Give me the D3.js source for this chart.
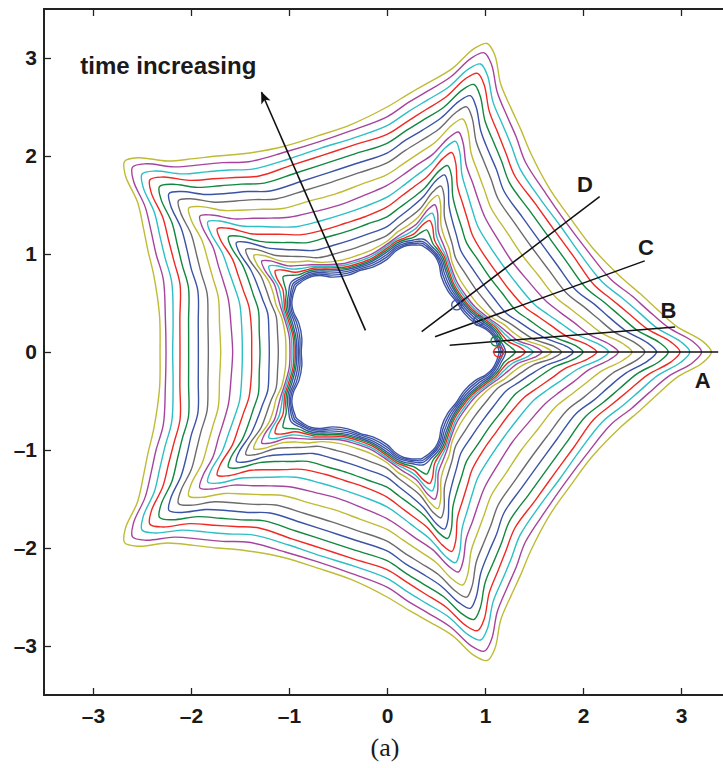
<!DOCTYPE html>
<html>
<head>
<meta charset="utf-8">
<script src="https://cdn.jsdelivr.net/npm/d3@7"></script>
<style>
  body { margin: 0; background: #fff; }
</style>
</head>
<body>
<div class="chart"></div>
<script>
// tick values on both axes
const tickVals = [-3, -2, -1, 0, 1, 2, 3];

// angle (deg) away from a tip of the 5-fold star, 0 = tip, 36 = middle of the valley
const profileAngles = [0, 2, 5, 9, 13, 18, 27, 36];

// radius of every front at those angles, outermost front first
const rAt0  = [3.31, 3.21, 3.09, 2.99, 2.87, 2.75, 2.63, 2.50, 2.36, 2.26, 2.14, 2.00, 1.90, 1.78, 1.68, 1.58, 1.49, 1.41, 1.31, 1.21, 1.185, 1.165, 1.145];
const rAt2  = [3.22, 3.12, 3.00, 2.90, 2.78, 2.66, 2.54, 2.41, 2.27, 2.17, 2.05, 1.92, 1.82, 1.70, 1.60, 1.51, 1.43, 1.36, 1.27, 1.20, 1.175, 1.155, 1.135];
const rAt5  = [2.97, 2.88, 2.77, 2.67, 2.56, 2.45, 2.33, 2.20, 2.07, 1.96, 1.84, 1.72, 1.62, 1.50, 1.41, 1.34, 1.29, 1.24, 1.20, 1.17, 1.15, 1.135, 1.12];
const rAt9  = [2.79, 2.70, 2.60, 2.50, 2.40, 2.29, 2.18, 2.05, 1.93, 1.81, 1.70, 1.58, 1.48, 1.38, 1.30, 1.25, 1.21, 1.18, 1.16, 1.14, 1.12, 1.105, 1.09];
const rAt13 = [2.65, 2.56, 2.46, 2.36, 2.27, 2.17, 2.06, 1.93, 1.81, 1.69, 1.59, 1.48, 1.38, 1.29, 1.23, 1.18, 1.155, 1.135, 1.115, 1.095, 1.075, 1.055, 1.035];
const rAt18 = [2.50, 2.40, 2.31, 2.22, 2.13, 2.03, 1.93, 1.81, 1.70, 1.58, 1.48, 1.38, 1.28, 1.19, 1.13, 1.10, 1.08, 1.06, 1.04, 1.02, 0.995, 0.97, 0.945];
const rAt27 = [2.35, 2.29, 2.21, 2.14, 2.05, 1.95, 1.85, 1.73, 1.61, 1.50, 1.40, 1.32, 1.22, 1.13, 1.05, 1.01, 0.99, 0.97, 0.955, 0.94, 0.92, 0.90, 0.88];
const rAt36 = [2.316, 2.255, 2.187, 2.112, 2.024, 1.925, 1.823, 1.697, 1.575, 1.476, 1.381, 1.296, 1.201, 1.109, 1.031, 0.99, 0.97, 0.95, 0.935, 0.92, 0.905, 0.89, 0.875];

// line colour of each front, outermost first
const frontColors = ["olive", "magenta", "cyan", "red", "green", "blue", "gray",
                     "olive", "magenta", "cyan", "red", "green", "blue", "gray",
                     "olive", "magenta", "cyan", "red", "green", "blue", "blue", "blue", "blue"];

// the probe lines and their labels
const probeNames = ["A", "B", "C", "D"];
const probeStart = [[1.08, 0.0], [0.64, 0.07], [0.49, 0.156], [0.354, 0.207]];
const probeEnd   = [[3.38, 0.0], [2.94, 0.255], [2.63, 0.93], [2.17, 1.585]];
const probeLabelAt = [[3.14, -0.37], [2.79, 0.35], [2.56, 0.99], [1.94, 1.63]];

// small circles on the innermost front
const markerPts = [[1.14, 0.0], [1.112, 0.112], [0.935, 0.32], [0.711, 0.48]];
const markerColors = ["red", "green", "blue", "blue"];

// "time increasing" arrow
const arrowFrom = [-0.22, 0.22];
const arrowTo = [-1.28, 2.65];
const arrowText = "time increasing";
const arrowTextAt = [-3.13, 2.83];

const palette = {
    blue: "#3b53a5", green: "#11873f", red: "#ee2a24", cyan: "#2dbfc6",
    magenta: "#a6449d", olive: "#bfbb35", gray: "#6b6b6d"
};

const width = 723;
const height = 768;
const marginTop = 9;
const marginLeft = 44;
const plotRight = 730;
const plotBottom = 695;

const x = d3.scaleLinear().domain([-3.5, 3.5]).range([marginLeft, plotRight]);
const y = d3.scaleLinear().domain([-3.5, 3.5]).range([plotBottom, marginTop]);

const svg = d3.select(".chart").append("svg")
    .attr("width", width)
    .attr("height", height)
    .style("font-family", "'Liberation Sans', Arial, sans-serif");

svg.append("defs").append("clipPath").attr("id", "plotClip")
    .append("rect")
    .attr("x", marginLeft).attr("y", marginTop)
    .attr("width", plotRight - marginLeft).attr("height", plotBottom - marginTop);

svg.select("defs").append("marker")
    .attr("id", "head")
    .attr("viewBox", "0 0 12 10")
    .attr("refX", 11).attr("refY", 5)
    .attr("markerWidth", 13).attr("markerHeight", 10)
    .attr("markerUnits", "userSpaceOnUse")
    .attr("orient", "auto")
    .append("path")
    .attr("d", "M0,0 L12,5 L0,10 L3,5 Z")
    .attr("fill", "#111");

const plot = svg.append("g").attr("clip-path", "url(#plotClip)");

// build the closed outline of a front from its profile, using the 5-fold mirror symmetry
function frontPoints(i) {
    const prof = [rAt0[i], rAt2[i], rAt5[i], rAt9[i], rAt13[i], rAt18[i], rAt27[i], rAt36[i]];
    const pts = [];
    for (let k = 0; k < 5; k++) {
        const base = 72 * k;
        for (let j = 0; j < profileAngles.length; j++) {
            pts.push([base + profileAngles[j], prof[j]]);
        }
        for (let j = profileAngles.length - 2; j >= 1; j--) {
            pts.push([base + 72 - profileAngles[j], prof[j]]);
        }
    }
    return pts.map(([deg, r]) => {
        const a = deg * Math.PI / 180;
        return [x(r * Math.cos(a)), y(r * Math.sin(a))];
    });
}

const line = d3.line().curve(d3.curveCatmullRomClosed.alpha(0.5));

const order = d3.range(frontColors.length).reverse();  // innermost drawn first
plot.selectAll("path.front")
    .data(order)
    .join("path")
    .attr("class", "front")
    .attr("d", i => line(frontPoints(i)))
    .attr("fill", "none")
    .attr("stroke", i => palette[frontColors[i]])
    .attr("stroke-width", 1.4);

// probe lines
plot.selectAll("line.probe")
    .data(probeNames)
    .join("line")
    .attr("class", "probe")
    .attr("x1", (d, i) => x(probeStart[i][0]))
    .attr("y1", (d, i) => y(probeStart[i][1]))
    .attr("x2", (d, i) => x(probeEnd[i][0]))
    .attr("y2", (d, i) => y(probeEnd[i][1]))
    .attr("stroke", "#111")
    .attr("stroke-width", 1.5);

plot.selectAll("circle.mark")
    .data(markerPts)
    .join("circle")
    .attr("class", "mark")
    .attr("cx", d => x(d[0]))
    .attr("cy", d => y(d[1]))
    .attr("r", 5)
    .attr("fill", "none")
    .attr("stroke", (d, i) => palette[markerColors[i]])
    .attr("stroke-width", 1.3);

svg.selectAll("text.probeLabel")
    .data(probeNames)
    .join("text")
    .attr("class", "probeLabel")
    .attr("x", (d, i) => x(probeLabelAt[i][0]))
    .attr("y", (d, i) => y(probeLabelAt[i][1]))
    .attr("font-size", 22)
    .attr("font-weight", "bold")
    .attr("fill", "#1a1a1a")
    .text(d => d);

// arrow
plot.append("line")
    .attr("x1", x(arrowFrom[0])).attr("y1", y(arrowFrom[1]))
    .attr("x2", x(arrowTo[0])).attr("y2", y(arrowTo[1]))
    .attr("stroke", "#111")
    .attr("stroke-width", 1.6)
    .attr("marker-end", "url(#head)");

svg.append("text")
    .attr("x", x(arrowTextAt[0]))
    .attr("y", y(arrowTextAt[1]) - 1)
    .attr("font-size", 24)
    .attr("font-weight", "bold")
    .attr("fill", "#1a1a1a")
    .text(arrowText);

// axes, ticks pointing inwards like matlab
const fmt = d => d < 0 ? "\u2013" + Math.abs(d) : String(d);

svg.append("g")
    .attr("transform", `translate(0,${plotBottom})`)
    .call(d3.axisBottom(x).tickValues(tickVals).tickFormat(fmt).tickSizeInner(-7).tickSizeOuter(0).tickPadding(13));
svg.append("g")
    .attr("transform", `translate(0,${marginTop})`)
    .call(d3.axisTop(x).tickValues(tickVals).tickFormat("").tickSizeInner(-7).tickSizeOuter(0));
svg.append("g")
    .attr("transform", `translate(${marginLeft},0)`)
    .call(d3.axisLeft(y).tickValues(tickVals).tickFormat(fmt).tickSizeInner(-7).tickSizeOuter(0).tickPadding(7));

svg.selectAll(".domain").remove();
svg.selectAll(".tick line").attr("stroke", "#222").attr("stroke-width", 1.3);
svg.selectAll(".tick text")
    .attr("font-size", 21)
    .attr("font-weight", "bold")
    .attr("font-family", "'Liberation Sans', Arial, sans-serif")
    .attr("fill", "#1a1a1a");

// frame
svg.append("path")
    .attr("d", `M${plotRight},${marginTop}H${marginLeft}V${plotBottom}H${plotRight}`)
    .attr("fill", "none")
    .attr("stroke", "#222")
    .attr("stroke-width", 2);

svg.append("text")
    .attr("x", x(0) - 2)
    .attr("y", 756)
    .attr("text-anchor", "middle")
    .attr("font-family", "'Liberation Serif', 'DejaVu Serif', serif")
    .attr("font-size", 26)
    .attr("fill", "#1a1a1a")
    .text("(a)");
</script>
</body>
</html>
